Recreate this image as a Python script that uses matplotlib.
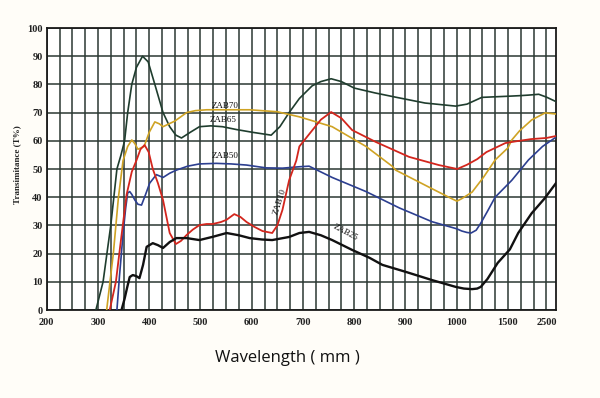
import numpy as np
import matplotlib
matplotlib.use("Agg")
import matplotlib.pyplot as plt

# ---- scale knots (wavelength -> chart grid position) ----
lam_knots = [200, 1000, 1500, 2500, 2750]
pos_knots = [0, 32, 36, 39, 39.75]

# ---- data (wavelength nm, transmittance %) ----
zab65_x = [296, 310, 325, 337, 345, 352, 358, 366, 375, 387, 398, 411, 427, 440, 452, 463, 480,
           498, 520, 543, 570, 602, 620, 638, 655, 673, 693, 718, 735, 755, 775, 800, 840, 880,
           938, 998, 1100, 1245, 1500, 1800, 2033, 2300, 2500, 2750]
zab65_y = [0, 10, 30, 50, 55, 60, 70, 80, 86, 90, 88, 80, 70, 65, 62, 61, 63,
           65, 65.3, 65, 64, 63, 62.5, 62, 65, 70, 75, 79.5, 81, 82, 81, 78.7, 77, 75.5,
           73.4, 72.3, 73, 75.4, 75.8, 76, 76.2, 76.5, 75.5, 73.9]

zab70_x = [317, 330, 340, 349, 358, 366, 372, 378, 390, 400, 411, 420, 427, 450, 473, 490, 512,
           550, 596, 650, 693, 757, 823, 874, 881, 952, 990, 1002, 1050, 1150, 1260, 1375,
           1500, 1600, 1800, 2117, 2467, 2750]
zab70_y = [0, 20, 40, 53, 58, 60.3, 59, 57, 58, 63, 66.7, 66, 65, 67, 70, 70.7, 71,
           71, 71, 70.3, 68.5, 65, 58, 51, 49.6, 43, 39.5, 38.6, 39.5, 41.8, 47, 53.2,
           57.5, 60.3, 63.5, 67.4, 69.9, 69.5]

zab10_x = [323, 335, 345, 356, 366, 375, 383, 391, 399, 407, 417, 427, 440, 452, 462, 473, 485,
           498, 512, 524, 540, 551, 566, 578, 590, 605, 621, 640, 650, 660, 673, 687, 693,
           715, 735, 755, 775, 796, 842, 907, 965, 1005, 1100, 1200, 1290, 1475, 1700,
           2100, 2500, 2750]
zab10_y = [0, 10, 25, 41, 49, 53, 57, 58.5, 56, 50, 45, 39, 27.3, 23.4, 24.5, 26.6, 28.5,
           30.1, 30.5, 30.5, 31.2, 32, 34, 33, 31.2, 29.5, 28, 27.3, 30, 35.5, 46, 53, 58,
           63, 67.5, 70.2, 68, 63.8, 59.6, 54.3, 51.4, 50, 51.5, 53.5, 56, 59.2, 59.8,
           60.6, 61, 61.7]

zab50_x = [337, 342, 349, 354, 358, 362, 366, 372, 378, 385, 393, 401, 414, 427, 440, 453,
           475, 498, 531, 560, 590, 628, 660, 693, 712, 757, 823, 888, 952, 1000, 1050, 1100,
           1140, 1190, 1235, 1300, 1375, 1600, 2033, 2400, 2750]
zab50_y = [0, 12, 27, 36, 41.5, 42, 41, 39, 37.5, 37.2, 41, 45, 48, 47, 48.5, 49.6,
           51, 51.8, 52, 51.8, 51.4, 50.4, 50.3, 50.8, 51, 47, 42, 36.2, 31.3, 28.8, 28, 27.5,
           27.3, 28.3, 30.8, 35, 40, 46, 53.2, 58, 61.3]

zab25_x = [346, 352, 357, 362, 368, 375, 381, 388, 395, 407, 417, 427, 440, 453, 473, 498,
           525, 551, 575, 596, 620, 640, 673, 693, 712, 735, 757, 796, 830, 855, 901, 952,
           998, 1070, 1150, 1200, 1235, 1300, 1400, 1550, 1767, 2117, 2450, 2750]
zab25_y = [0, 4, 8, 11.7, 12.4, 12, 11.3, 16, 22.4, 23.7, 23, 22, 24.1, 25.5, 25.5, 24.8,
           26, 27.3, 26.5, 25.5, 25, 24.8, 25.9, 27.3, 27.7, 26.5, 24.8, 21.3, 18.5, 16, 13.5, 10.6,
           8.2, 7.6, 7.4, 7.6, 8.2, 11, 16.7, 21.5, 27.3, 34.3, 39.5, 45]

x_tick_vals = [200, 300, 400, 500, 600, 700, 800, 900, 1000, 1500, 2500]
x_tick_labels = ["200", "300", "400", "500", "600", "700", "800", "900", "1000", "1500", "2500"]
y_tick_vals = [0, 10, 20, 30, 40, 50, 60, 70, 80, 90, 100]


def fwd(x):
    return np.interp(x, lam_knots, pos_knots)


def inv(p):
    return np.interp(p, pos_knots, lam_knots)


bg = "#fffdf8"
grid_col = "#2b3833"
serif = ["Liberation Serif", "DejaVu Serif"]

fig = plt.figure(figsize=(6.0, 3.98), dpi=100, facecolor=bg)
ax = fig.add_axes([46.7 / 600, (398 - 310) / 398, (556 - 46.7) / 600, (310 - 28) / 398])
ax.set_facecolor("white")
ax.set_xscale("function", functions=(fwd, inv))
ax.set_xlim(200, 2750)
ax.set_ylim(0, 100)

minor_pos = np.arange(0, 40, 1.0)
ax.set_xticks(x_tick_vals)
ax.set_xticklabels(x_tick_labels)
ax.set_xticks(inv(minor_pos), minor=True)
ax.set_yticks(y_tick_vals)
ax.grid(True, which="both", color=grid_col, linewidth=1.1)
ax.tick_params(which="both", length=0)
ax.tick_params(axis="x", pad=6)
ax.tick_params(axis="y", pad=3)
for lab in ax.get_xticklabels() + ax.get_yticklabels():
    lab.set_fontfamily(serif)
    lab.set_fontsize(7.5)
    lab.set_fontweight("bold")
    lab.set_color("#222222")
for sp in ax.spines.values():
    sp.set_color("#1a1a1a")
    sp.set_linewidth(1.3)
ax.set_axisbelow(True)

ax.plot(zab65_x, zab65_y, color="#1f3d2e", lw=1.2, zorder=3)
ax.plot(zab70_x, zab70_y, color="#cfa324", lw=1.2, zorder=3)
ax.plot(zab50_x, zab50_y, color="#2c3f90", lw=1.2, zorder=3)
ax.plot(zab10_x, zab10_y, color="#d3261d", lw=1.3, zorder=4)
ax.plot(zab25_x, zab25_y, color="#111111", lw=1.7, zorder=4)

lab_kw = dict(fontfamily=serif, fontsize=6.5, color="#111111", zorder=5)
ax.text(548, 72.5, "ZAB70", ha="center", va="center", **lab_kw)
ax.text(545, 67.3, "ZAB65", ha="center", va="center", **lab_kw)
ax.text(548, 54.5, "ZAB50", ha="center", va="center", **lab_kw)
ax.text(654, 38.5, "ZAB10", ha="center", va="center", rotation=72, **lab_kw)
ax.text(782, 27.5, "ZAB25", ha="center", va="center", rotation=-28, **lab_kw)

fig.text(17 / 600, 1 - 165 / 398, "Transimitance (T%)", rotation=90, ha="center", va="center",
         fontfamily=serif, fontsize=6.5, fontweight="bold", color="#222222")
fig.text(287 / 600, 1 - 358 / 398, "Wavelength ( mm )", ha="center", va="center",
         fontfamily=["Open Sans", "DejaVu Sans"], fontsize=12, color="#111111")

fig.savefig("out.png", dpi=100, facecolor=bg)
